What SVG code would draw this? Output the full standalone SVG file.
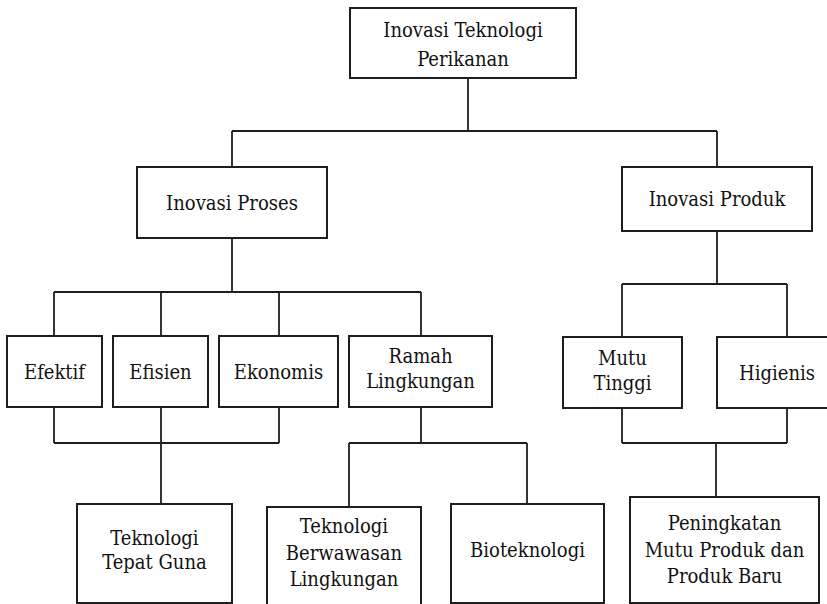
<svg xmlns="http://www.w3.org/2000/svg" width="827" height="604" viewBox="0 0 827 604">
<style>
.box{fill:#fff;stroke:#1e1e1e;stroke-width:2}
.conn{fill:none;stroke:#1e1e1e;stroke-width:1.8}
text{font-family:"DejaVu Serif","Liberation Serif",serif;font-stretch:condensed;font-size:20px;fill:#111;text-anchor:middle}
</style>
<rect width="827" height="604" fill="#fff"/>
<g id="connectors" class="conn">
<path d="M468 78V131M232 131H717M232 131V167M717 131V167"/>
<path d="M232 238V292M54 292H421M54 292V336M161 292V336M279 292V336M421 292V336"/>
<path d="M717 231V284M622 284H787M622 284V337M787 284V337"/>
<path d="M54 407V443M161 407V443M279 407V443M54 443H279M161 443V504"/>
<path d="M421 407V443M349 443H527M349 443V507M527 443V504"/>
<path d="M622 408V443M787 408V443M622 443H787M716 443V497"/>
</g>
<g id="root"><rect class="box" x="350" y="8" width="226" height="70"/><text x="463" y="37">Inovasi Teknologi</text><text x="463" y="66">Perikanan</text></g>
<g id="proses"><rect class="box" x="137" y="167" width="190" height="71"/><text x="232" y="210">Inovasi Proses</text></g>
<g id="produk"><rect class="box" x="622" y="167" width="190" height="64"/><text x="717" y="206">Inovasi Produk</text></g>
<g id="efektif"><rect class="box" x="7" y="336" width="95" height="71"/><text x="54.5" y="379">Efektif</text></g>
<g id="efisien"><rect class="box" x="113" y="336" width="95" height="71"/><text x="160.5" y="379">Efisien</text></g>
<g id="ekonomis"><rect class="box" x="219" y="336" width="119" height="71"/><text x="278.5" y="379">Ekonomis</text></g>
<g id="ramah"><rect class="box" x="349" y="336" width="143" height="71"/><text x="420.5" y="363">Ramah</text><text x="420.5" y="388">Lingkungan</text></g>
<g id="mutu"><rect class="box" x="563" y="337" width="119" height="71"/><text x="622.5" y="365">Mutu</text><text x="622.5" y="390">Tinggi</text></g>
<g id="higienis"><rect class="box" x="717" y="337" width="120" height="71"/><text x="777" y="380">Higienis</text></g>
<g id="ttg"><rect class="box" x="77" y="504" width="155" height="99"/><text x="154.5" y="545">Teknologi</text><text x="154.5" y="569">Tepat Guna</text></g>
<g id="tbl"><rect class="box" x="267" y="507" width="154" height="110"/><text x="344" y="533">Teknologi</text><text x="344" y="560">Berwawasan</text><text x="344" y="586">Lingkungan</text></g>
<g id="bioteknologi"><rect class="box" x="451" y="504" width="153" height="99"/><text x="527.5" y="557">Bioteknologi</text></g>
<g id="peningkatan"><rect class="box" x="630" y="497" width="189" height="106"/><text x="724.5" y="530">Peningkatan</text><text x="724.5" y="557">Mutu Produk dan</text><text x="724.5" y="583">Produk Baru</text></g>
</svg>
